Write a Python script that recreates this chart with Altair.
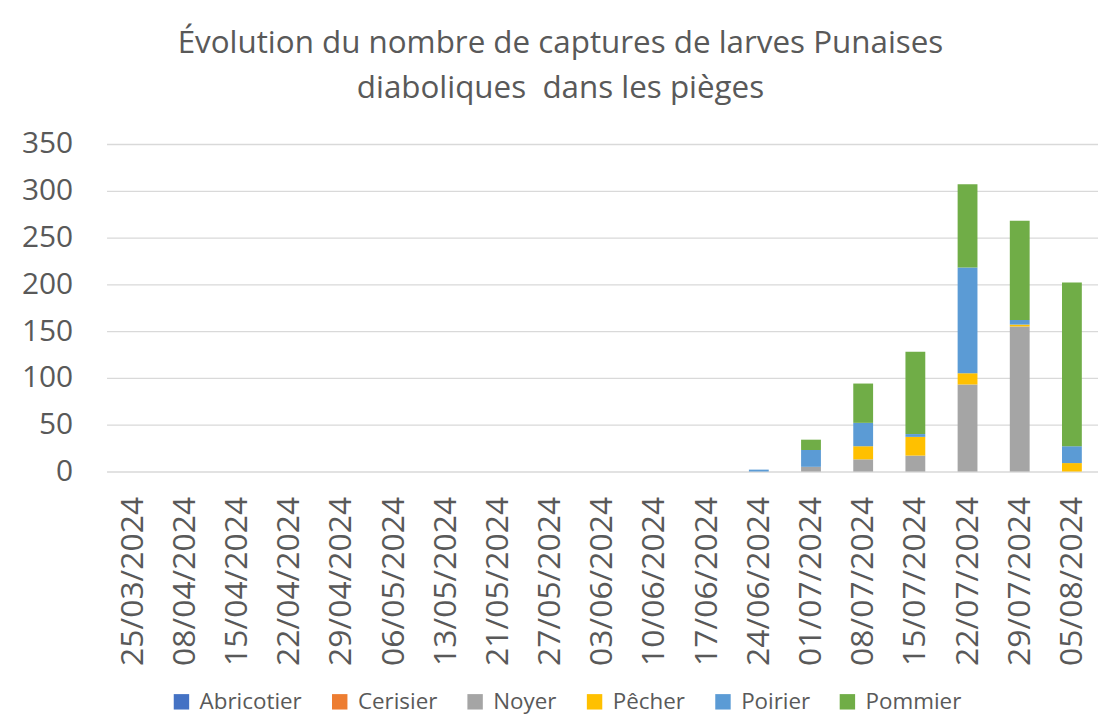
import altair as alt
import pandas as pd

dates = ["25/03/2024", "08/04/2024", "15/04/2024", "22/04/2024", "29/04/2024",
         "06/05/2024", "13/05/2024", "21/05/2024", "27/05/2024", "03/06/2024",
         "10/06/2024", "17/06/2024", "24/06/2024", "01/07/2024", "08/07/2024",
         "15/07/2024", "22/07/2024", "29/07/2024", "05/08/2024"]

series = ["Abricotier", "Cerisier", "Noyer", "Pêcher", "Poirier", "Pommier"]
colors = ["#4472C4", "#ED7D31", "#A5A5A5", "#FFC000", "#5B9BD5", "#70AD47"]

abricotier = [0] * 19
cerisier = [0] * 19
noyer = [0, 0, 0, 0, 0, 0, 0, 0, 0, 0, 0, 0, 0, 5, 13, 17, 93, 155, 0]
pecher = [0, 0, 0, 0, 0, 0, 0, 0, 0, 0, 0, 0, 0, 0, 14, 20, 12, 2, 9]
poirier = [0, 0, 0, 0, 0, 0, 0, 0, 0, 0, 0, 0, 2, 18, 25, 3, 113, 5, 18]
pommier = [0, 0, 0, 0, 0, 0, 0, 0, 0, 0, 0, 0, 0, 11, 42, 88, 89, 106, 175]

values = [abricotier, cerisier, noyer, pecher, poirier, pommier]
rows = []
for s_i, (name, vals) in enumerate(zip(series, values)):
    for d, v in zip(dates, vals):
        rows.append({"date": d, "serie": name, "valeur": v, "ordre": s_i})
df = pd.DataFrame(rows)

FONT = "Open Sans"
GRAY = "#595959"

chart = alt.Chart(df).mark_bar().encode(
    x=alt.X("date:N", sort=dates,
            scale=alt.Scale(paddingInner=0.62, paddingOuter=0.31),
            axis=alt.Axis(title=None, labelAngle=270, labelFontSize=32,
                          labelFont=FONT, labelColor=GRAY, ticks=False,
                          tickSize=0, domain=False, labelPadding=25)),
    y=alt.Y("valeur:Q", stack="zero",
            scale=alt.Scale(domain=[0, 350], nice=False),
            axis=alt.Axis(title=None, values=[0, 50, 100, 150, 200, 250, 300, 350],
                          labelFontSize=30, labelFont=FONT, labelColor=GRAY,
                          ticks=False, tickSize=0, domain=False, labelPadding=34,
                          gridColor="#d9d9d9", gridWidth=1.3)),
    color=alt.Color("serie:N", sort=series,
                    scale=alt.Scale(domain=series, range=colors),
                    legend=alt.Legend(title=None, orient="none", direction="horizontal",
                                      columns=6, legendX=64, legendY=549,
                                      symbolType="square", symbolSize=240,
                                      symbolStrokeWidth=0, labelFont=FONT,
                                      labelFontSize=22.5, labelColor=GRAY,
                                      labelOffset=7, columnPadding=26)),
    order=alt.Order("ordre:Q", sort="ascending"),
).properties(
    width=996,
    height=329,
    title=alt.TitleParams(
        text=["Évolution du nombre de captures de larves Punaises",
              "diaboliques\u00a0 dans les pièges"],
        font=FONT, fontSize=31.5, fontWeight="normal", color=GRAY,
        anchor="middle", dx=-42, lineHeight=45, offset=25),
    autosize=alt.AutoSizeParams(type="none"),
    padding={"left": 99, "top": 135, "right": 0, "bottom": 245},
).configure_view(stroke=None)

chart.save("out.html", embed_options={"renderer": "svg", "actions": False})
